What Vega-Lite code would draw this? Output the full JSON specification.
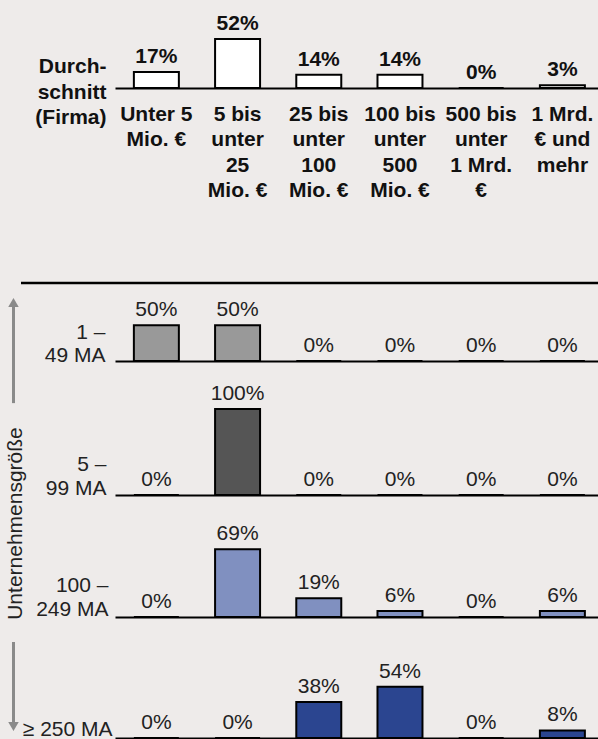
{
  "$schema": "https://vega.github.io/schema/vega-lite/v6.json",
  "background": "#eeebea",
  "padding": {"left": 4, "top": 0, "right": 0, "bottom": 0},
  "bounds": "flush",
  "columns": 2,
  "spacing": {"row": 195, "column": 0},
  "config": {
    "font": "Liberation Sans",
    "view": {"stroke": null},
    "axis": {"grid": false}
  },
  "datasets": {
    "anteile": [
      {"Gruppe": "Durchschnitt (Firma)", "Umsatz": "Unter 5\nMio. €", "Anteil": 0.17},
      {"Gruppe": "Durchschnitt (Firma)", "Umsatz": "5 bis\nunter\n25\nMio. €", "Anteil": 0.52},
      {"Gruppe": "Durchschnitt (Firma)", "Umsatz": "25 bis\nunter\n100\nMio. €", "Anteil": 0.14},
      {"Gruppe": "Durchschnitt (Firma)", "Umsatz": "100 bis\nunter\n500\nMio. €", "Anteil": 0.14},
      {"Gruppe": "Durchschnitt (Firma)", "Umsatz": "500 bis\nunter\n1 Mrd.\n€", "Anteil": 0.0},
      {"Gruppe": "Durchschnitt (Firma)", "Umsatz": "1 Mrd.\n€ und\nmehr", "Anteil": 0.03},
      {"Gruppe": "1 – 49 MA", "Umsatz": "Unter 5\nMio. €", "Anteil": 0.5},
      {"Gruppe": "1 – 49 MA", "Umsatz": "5 bis\nunter\n25\nMio. €", "Anteil": 0.5},
      {"Gruppe": "1 – 49 MA", "Umsatz": "25 bis\nunter\n100\nMio. €", "Anteil": 0.0},
      {"Gruppe": "1 – 49 MA", "Umsatz": "100 bis\nunter\n500\nMio. €", "Anteil": 0.0},
      {"Gruppe": "1 – 49 MA", "Umsatz": "500 bis\nunter\n1 Mrd.\n€", "Anteil": 0.0},
      {"Gruppe": "1 – 49 MA", "Umsatz": "1 Mrd.\n€ und\nmehr", "Anteil": 0.0},
      {"Gruppe": "5 – 99 MA", "Umsatz": "Unter 5\nMio. €", "Anteil": 0.0},
      {"Gruppe": "5 – 99 MA", "Umsatz": "5 bis\nunter\n25\nMio. €", "Anteil": 1.0},
      {"Gruppe": "5 – 99 MA", "Umsatz": "25 bis\nunter\n100\nMio. €", "Anteil": 0.0},
      {"Gruppe": "5 – 99 MA", "Umsatz": "100 bis\nunter\n500\nMio. €", "Anteil": 0.0},
      {"Gruppe": "5 – 99 MA", "Umsatz": "500 bis\nunter\n1 Mrd.\n€", "Anteil": 0.0},
      {"Gruppe": "5 – 99 MA", "Umsatz": "1 Mrd.\n€ und\nmehr", "Anteil": 0.0},
      {"Gruppe": "100 – 249 MA", "Umsatz": "Unter 5\nMio. €", "Anteil": 0.0},
      {"Gruppe": "100 – 249 MA", "Umsatz": "5 bis\nunter\n25\nMio. €", "Anteil": 0.69},
      {"Gruppe": "100 – 249 MA", "Umsatz": "25 bis\nunter\n100\nMio. €", "Anteil": 0.19},
      {"Gruppe": "100 – 249 MA", "Umsatz": "100 bis\nunter\n500\nMio. €", "Anteil": 0.06},
      {"Gruppe": "100 – 249 MA", "Umsatz": "500 bis\nunter\n1 Mrd.\n€", "Anteil": 0.0},
      {"Gruppe": "100 – 249 MA", "Umsatz": "1 Mrd.\n€ und\nmehr", "Anteil": 0.06},
      {"Gruppe": "≥ 250 MA", "Umsatz": "Unter 5\nMio. €", "Anteil": 0.0},
      {"Gruppe": "≥ 250 MA", "Umsatz": "5 bis\nunter\n25\nMio. €", "Anteil": 0.0},
      {"Gruppe": "≥ 250 MA", "Umsatz": "25 bis\nunter\n100\nMio. €", "Anteil": 0.38},
      {"Gruppe": "≥ 250 MA", "Umsatz": "100 bis\nunter\n500\nMio. €", "Anteil": 0.54},
      {"Gruppe": "≥ 250 MA", "Umsatz": "500 bis\nunter\n1 Mrd.\n€", "Anteil": 0.0},
      {"Gruppe": "≥ 250 MA", "Umsatz": "1 Mrd.\n€ und\nmehr", "Anteil": 0.08}
    ]
  },
  "concat": [
    {
      "width": 94,
      "height": 88,
      "data": {"values": []},
      "mark": "point"
    },
    {
      "width": 483,
      "height": 88,
      "data": {"name": "anteile"},
      "transform": [{"filter": "datum.Gruppe === 'Durchschnitt (Firma)'"}],
      "encoding": {
        "x": {
          "field": "Umsatz",
          "type": "nominal",
          "scale": {
            "domain": ["Unter 5\nMio. €", "5 bis\nunter\n25\nMio. €", "25 bis\nunter\n100\nMio. €", "100 bis\nunter\n500\nMio. €", "500 bis\nunter\n1 Mrd.\n€", "1 Mrd.\n€ und\nmehr"],
            "paddingInner": 0.446,
            "paddingOuter": 0.197,
            "align": 0.59
          },
          "axis": {
            "title": null,
            "ticks": false,
            "domainColor": "black",
            "domainWidth": 2,
            "labelExpr": "split(datum.label, '\\n')",
            "labelAngle": 0,
            "labelFontSize": 21,
            "labelFontWeight": "bold",
            "labelColor": "#111111",
            "labelLineHeight": 25.5,
            "labelPadding": 15,
            "labelBaseline": "top",
            "labelOverlap": false,
            "labelLimit": 0
          }
        },
        "y": {
          "field": "Anteil",
          "type": "quantitative",
          "scale": {"domain": [0, 0.935], "nice": false},
          "axis": {
            "title": ["Durch-", "schnitt", "(Firma)"],
            "domain": false,
            "ticks": false,
            "labels": false,
            "titleAngle": 0,
            "titleAlign": "right",
            "titleBaseline": "alphabetic",
            "titleX": -9,
            "titleY": 72.5,
            "titleFontSize": 21,
            "titleFontWeight": "bold",
            "titleColor": "#111111",
            "titleLineHeight": 25.5
          }
        }
      },
      "layer": [
        {"mark": {"type": "bar", "fill": "white", "stroke": "black", "strokeWidth": 2}},
        {
          "mark": {"type": "text", "baseline": "alphabetic", "dy": -9, "fontSize": 21, "fontWeight": "bold", "color": "#111111"},
          "encoding": {"text": {"field": "Anteil", "format": ".0%"}}
        }
      ]
    },
    {
      "width": 94,
      "height": 455,
      "data": {"values": [{}]},
      "layer": [
        {
          "mark": {"type": "rule", "stroke": "black", "strokeWidth": 2.5},
          "encoding": {
            "y": {
              "datum": 1,
              "type": "quantitative",
              "scale": {"domain": [0, 1], "nice": false, "zero": false},
              "axis": {
                "title": "Unternehmensgröße",
                "domain": false,
                "ticks": false,
                "labels": false,
                "titleAngle": -90,
                "titleAlign": "center",
                "titleBaseline": "alphabetic",
                "titleX": 0,
                "titleY": 240,
                "titleFontSize": 21,
                "titleFontWeight": "normal",
                "titleColor": "#222222"
              }
            }
          }
        },
        {
          "mark": {"type": "rule", "stroke": "#8a8a8a", "strokeWidth": 3},
          "encoding": {
            "x": {"datum": -0.08, "type": "quantitative", "scale": {"domain": [0, 1], "nice": false, "zero": false}, "axis": null},
            "y": {"datum": 0.957},
            "y2": {"datum": 0.736}
          }
        },
        {
          "mark": {"type": "rule", "stroke": "#8a8a8a", "strokeWidth": 3},
          "encoding": {
            "x": {"datum": -0.08, "type": "quantitative"},
            "y": {"datum": 0.211},
            "y2": {"datum": 0.0253}
          }
        },
        {
          "mark": {"type": "point", "shape": "triangle-up", "filled": true, "color": "#8a8a8a", "opacity": 1, "size": 110},
          "encoding": {
            "x": {"datum": -0.08, "type": "quantitative"},
            "y": {"datum": 0.957}
          }
        },
        {
          "mark": {"type": "point", "shape": "triangle-down", "filled": true, "color": "#8a8a8a", "opacity": 1, "size": 110},
          "encoding": {
            "x": {"datum": -0.08, "type": "quantitative"},
            "y": {"datum": 0.0253}
          }
        }
      ]
    },
    {
      "bounds": "flush",
      "spacing": 0,
      "vconcat": [
        {
          "width": 483,
          "height": 78,
          "data": {"name": "anteile"},
          "transform": [{"filter": "datum.Gruppe === '1 – 49 MA'"}],
          "layer": [
            {
              "encoding": {
                "x": {
                  "field": "Umsatz",
                  "type": "nominal",
                  "scale": {
                    "domain": ["Unter 5\nMio. €", "5 bis\nunter\n25\nMio. €", "25 bis\nunter\n100\nMio. €", "100 bis\nunter\n500\nMio. €", "500 bis\nunter\n1 Mrd.\n€", "1 Mrd.\n€ und\nmehr"],
                    "paddingInner": 0.446,
                    "paddingOuter": 0.197,
                    "align": 0.59
                  },
                  "axis": {"title": null, "labels": false, "ticks": false, "domainColor": "black", "domainWidth": 2}
                },
                "y": {
                  "field": "Anteil",
                  "type": "quantitative",
                  "scale": {"domain": [0, 1.092], "nice": false},
                  "axis": {
                    "title": ["1 –", "49 MA"],
                    "domain": false, "ticks": false, "labels": false,
                    "titleAngle": 0, "titleAlign": "right", "titleBaseline": "alphabetic",
                    "titleX": -10, "titleY": 55,
                    "titleFontSize": 21, "titleFontWeight": "normal", "titleColor": "#222222", "titleLineHeight": 23
                  }
                }
              },
              "layer": [
                {"mark": {"type": "bar", "fill": "#999999", "stroke": "black", "strokeWidth": 2}},
                {
                  "mark": {"type": "text", "baseline": "alphabetic", "dy": -9, "fontSize": 21, "color": "#222222"},
                  "encoding": {"text": {"field": "Anteil", "format": ".0%"}}
                }
              ]
            },
            {
              "data": {"values": [{}]},
              "mark": {"type": "rule", "stroke": "black", "strokeWidth": 2.5},
              "encoding": {"y": {"datum": 1.092, "type": "quantitative"}}
            }
          ]
        },
        {
          "width": 483,
          "height": 134,
          "data": {"name": "anteile"},
          "transform": [{"filter": "datum.Gruppe === '5 – 99 MA'"}],
          "encoding": {
            "x": {
              "field": "Umsatz",
              "type": "nominal",
              "scale": {
                "domain": ["Unter 5\nMio. €", "5 bis\nunter\n25\nMio. €", "25 bis\nunter\n100\nMio. €", "100 bis\nunter\n500\nMio. €", "500 bis\nunter\n1 Mrd.\n€", "1 Mrd.\n€ und\nmehr"],
                "paddingInner": 0.446,
                "paddingOuter": 0.197,
                "align": 0.59
              },
              "axis": {"title": null, "labels": false, "ticks": false, "domainColor": "black", "domainWidth": 2}
            },
            "y": {
              "field": "Anteil",
              "type": "quantitative",
              "scale": {"domain": [0, 1.558], "nice": false},
              "axis": {
                "title": ["5 –", "99 MA"],
                "domain": false, "ticks": false, "labels": false,
                "titleAngle": 0, "titleAlign": "right", "titleBaseline": "alphabetic",
                "titleX": -9, "titleY": 109,
                "titleFontSize": 21, "titleFontWeight": "normal", "titleColor": "#222222", "titleLineHeight": 24
              }
            }
          },
          "layer": [
            {"mark": {"type": "bar", "fill": "#555555", "stroke": "black", "strokeWidth": 2}},
            {
              "mark": {"type": "text", "baseline": "alphabetic", "dy": -9, "fontSize": 21, "color": "#222222"},
              "encoding": {"text": {"field": "Anteil", "format": ".0%"}}
            }
          ]
        },
        {
          "width": 483,
          "height": 122,
          "data": {"name": "anteile"},
          "transform": [{"filter": "datum.Gruppe === '100 – 249 MA'"}],
          "encoding": {
            "x": {
              "field": "Umsatz",
              "type": "nominal",
              "scale": {
                "domain": ["Unter 5\nMio. €", "5 bis\nunter\n25\nMio. €", "25 bis\nunter\n100\nMio. €", "100 bis\nunter\n500\nMio. €", "500 bis\nunter\n1 Mrd.\n€", "1 Mrd.\n€ und\nmehr"],
                "paddingInner": 0.446,
                "paddingOuter": 0.197,
                "align": 0.59
              },
              "axis": {"title": null, "labels": false, "ticks": false, "domainColor": "black", "domainWidth": 2}
            },
            "y": {
              "field": "Anteil",
              "type": "quantitative",
              "scale": {"domain": [0, 1.244], "nice": false},
              "axis": {
                "title": ["100 –", "249 MA"],
                "domain": false, "ticks": false, "labels": false,
                "titleAngle": 0, "titleAlign": "right", "titleBaseline": "alphabetic",
                "titleX": -7, "titleY": 96,
                "titleFontSize": 21, "titleFontWeight": "normal", "titleColor": "#222222", "titleLineHeight": 24
              }
            }
          },
          "layer": [
            {"mark": {"type": "bar", "fill": "#8090c0", "stroke": "black", "strokeWidth": 2}},
            {
              "mark": {"type": "text", "baseline": "alphabetic", "dy": -9, "fontSize": 21, "color": "#222222"},
              "encoding": {"text": {"field": "Anteil", "format": ".0%"}}
            }
          ]
        },
        {
          "width": 483,
          "height": 121,
          "data": {"name": "anteile"},
          "transform": [{"filter": "datum.Gruppe === '≥ 250 MA'"}],
          "encoding": {
            "x": {
              "field": "Umsatz",
              "type": "nominal",
              "scale": {
                "domain": ["Unter 5\nMio. €", "5 bis\nunter\n25\nMio. €", "25 bis\nunter\n100\nMio. €", "100 bis\nunter\n500\nMio. €", "500 bis\nunter\n1 Mrd.\n€", "1 Mrd.\n€ und\nmehr"],
                "paddingInner": 0.446,
                "paddingOuter": 0.197,
                "align": 0.59
              },
              "axis": {"title": null, "labels": false, "ticks": false, "domainColor": "black", "domainWidth": 2}
            },
            "y": {
              "field": "Anteil",
              "type": "quantitative",
              "scale": {"domain": [0, 1.274], "nice": false},
              "axis": {
                "title": "≥ 250 MA",
                "domain": false, "ticks": false, "labels": false,
                "titleAngle": 0, "titleAlign": "right", "titleBaseline": "alphabetic",
                "titleX": -3, "titleY": 118,
                "titleFontSize": 21, "titleFontWeight": "normal", "titleColor": "#222222"
              }
            }
          },
          "layer": [
            {"mark": {"type": "bar", "fill": "#2b4590", "stroke": "black", "strokeWidth": 2}},
            {
              "mark": {"type": "text", "baseline": "alphabetic", "dy": -9, "fontSize": 21, "color": "#222222"},
              "encoding": {"text": {"field": "Anteil", "format": ".0%"}}
            }
          ]
        }
      ]
    }
  ]
}
